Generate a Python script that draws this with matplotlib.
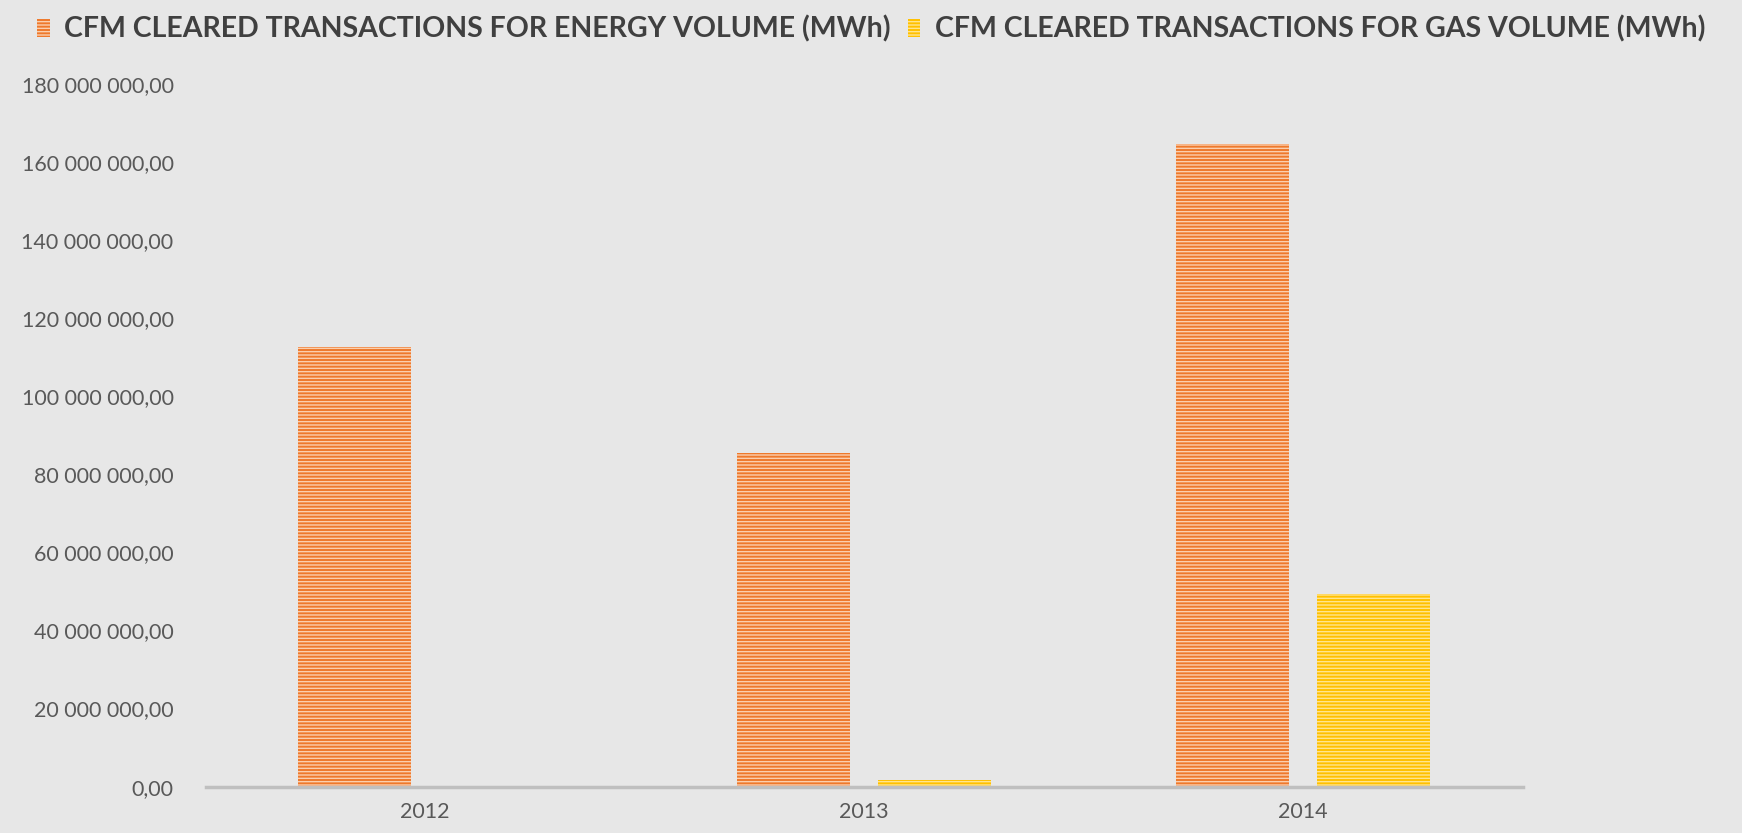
import numpy as np
import matplotlib.pyplot as plt
from matplotlib.ticker import FuncFormatter

# data
years = ['2012', '2013', '2014']
energy = [112.8e6, 85.4e6, 164.6e6]
gas = [0.0, 1.7e6, 49.3e6]
labels = ['CFM CLEARED TRANSACTIONS FOR ENERGY VOLUME (MWh)',
          'CFM CLEARED TRANSACTIONS FOR GAS VOLUME (MWh)']

bg = '#e7e7e7'
plt.rcParams['font.family'] = ['Lato', 'DejaVu Sans']
plt.rcParams['hatch.linewidth'] = 1.0

fig = plt.figure(figsize=(17.42, 8.33), dpi=100, facecolor=bg)
ax = fig.add_axes([0.118, 0.0557, 0.756, 0.843], facecolor=bg)

x = np.arange(len(years))
w = 0.258
ax.bar(x - 0.161, energy, w, color='#ee792c', edgecolor='#fbcfae',
       linewidth=0, hatch='-----', label=labels[0])
ax.bar(x + 0.161, gas, w, color='#ffc000', edgecolor='#ffe58f',
       linewidth=0, hatch='-----', label=labels[1])

ax.set_xlim(-0.5, 2.5)
ax.set_ylim(0, 180e6)
ax.set_yticks(np.arange(0, 180e6 + 1, 20e6))
ax.yaxis.set_major_formatter(FuncFormatter(
    lambda v, p: '{:,.2f}'.format(v).replace(',', ' ').replace('.', ',')))
ax.set_xticks(x)
ax.set_xticklabels(years)
ax.tick_params(axis='both', length=0, labelsize=15.5, labelcolor='#595959')
ax.tick_params(axis='y', pad=23)
ax.tick_params(axis='x', pad=11)

for s in ['top', 'right', 'left']:
    ax.spines[s].set_visible(False)
ax.spines['bottom'].set_color('#bfbfbf')
ax.spines['bottom'].set_linewidth(2.5)

leg = fig.legend(loc='upper center', bbox_to_anchor=(0.5, 1.012), ncol=2,
                 frameon=False, handlelength=0.45, handleheight=0.6,
                 handletextpad=0.5, columnspacing=0.6,
                 prop={'weight': 'bold', 'size': 20.5})
for t in leg.get_texts():
    t.set_color('#404040')

fig.savefig('out.png', dpi=100, facecolor=bg)
